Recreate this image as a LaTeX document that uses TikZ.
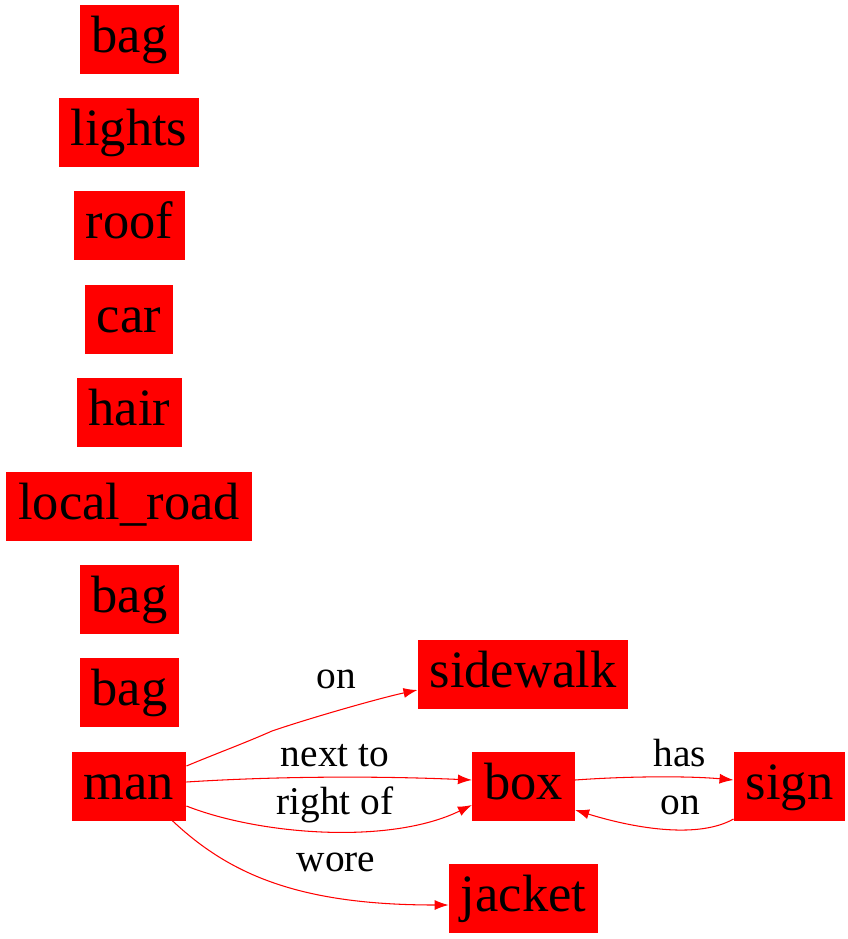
\documentclass[tikz,border=0pt]{standalone}
\usepackage{fontspec}
\setmainfont{Liberation Serif}
\usepackage{tikz}
\usetikzlibrary{arrows.meta}
\usetikzlibrary{calc}

\begin{document}
\begin{tikzpicture}[x=0.03cm, y=-0.03cm,
  obj/.style={fill=red, text=black, inner xsep=0.36cm, inner ysep=0pt, minimum height=2.07cm,
    font=\fontsize{44.8}{50}\selectfont, text height=32pt, text depth=9pt},
  rel/.style={text=black, inner sep=0pt, font=\fontsize{33.6}{38}\selectfont,
    text height=25pt, text depth=6pt},
  edge/.style={->, >={Latex[length=0.42cm, width=0.3cm]}, draw=red, line width=0.9pt}]
\useasboundingbox (0,0) rectangle (848,939);
\node[obj] (bag1) at (129.5,39.5) {bag};
\node[obj] (lights) at (129,132.5) {lights};
\node[obj] (roof) at (129.5,225.5) {roof};
\node[obj] (car) at (129,319.5) {car};
\node[obj] (hair) at (129.5,412.5) {hair};
\node[obj] (localroad) at (129,506) {local\_road};
\node[obj] (bag2) at (129.5,599.5) {bag};
\node[obj] (bag3) at (129.5,692.5) {bag};
\node[obj] (man) at (129,786) {man};
\node[obj] (sidewalk) at (523,674) {sidewalk};
\node[obj] (box) at (523.5,786) {box};
\node[obj] (sign) at (789.5,786) {sign};
\node[obj] (jacket) at (523.5,898) {jacket};
\draw[edge] ($(man.east)+(0,-20)$) .. controls (215,754) and (245,743) .. (272,731)
  .. controls (310,718) and (380,698) .. ($(sidewalk.west)+(0,16)$);
\draw[edge] ($(man.east)+(0,-4)$) .. controls (280,776) and (380,776) .. ($(box.west)+(0,-6)$);
\draw[edge] ($(man.east)+(0,20)$) .. controls (260,835) and (390,845) .. ($(box.west)+(0,19)$);
\draw[edge] ($(man.south east)+(-14,0)$) .. controls (230,875) and (300,905) .. ($(jacket.west)+(0,7)$);
\draw[edge] ($(box.east)+(0,-6)$) .. controls (630,776) and (690,776) .. ($(sign.west)+(0,-6)$);
\draw[edge] ($(sign.west)+(0,33)$) .. controls (700,838) and (640,830) .. ($(box.east)+(0,24)$);
\node[rel] (lon) at (336,677) {on};
\node[rel] (lnext) at (335,755) {next to};
\node[rel] (lright) at (335,803) {right of};
\node[rel] (lwore) at (336,860) {wore};
\node[rel] (lhas) at (680,755) {has};
\node[rel] (lon2) at (680,803) {on};
\end{tikzpicture}
\end{document}
